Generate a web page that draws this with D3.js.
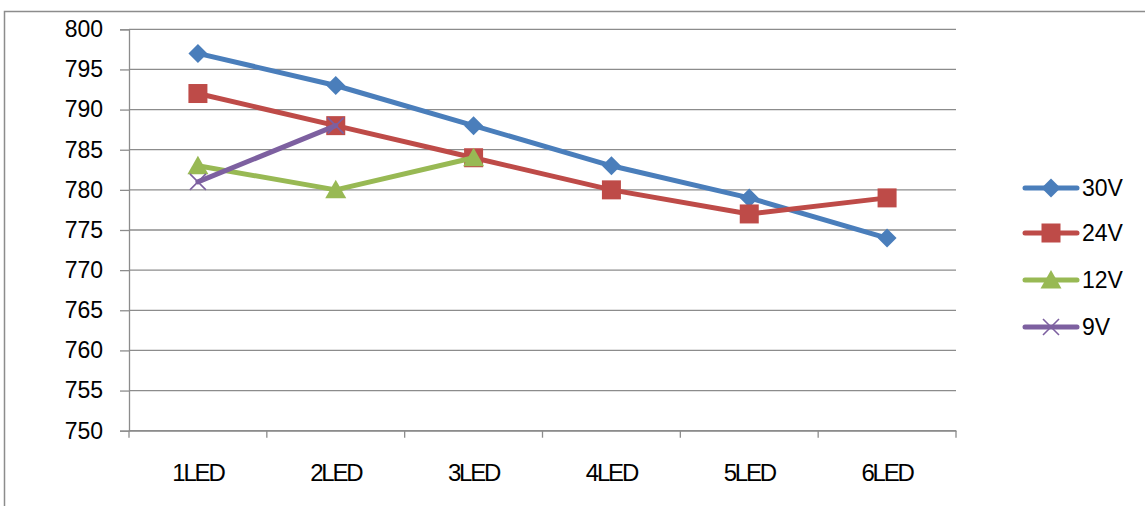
<!DOCTYPE html>
<html><head><meta charset="utf-8">
<script src="https://cdn.jsdelivr.net/npm/d3@7"></script>
<style>
html,body{margin:0;padding:0;background:#fff;}
svg{display:block;font-family:"Liberation Sans",Arial,sans-serif;}
</style></head>
<body><svg id="c" width="1145" height="506"></svg>
<script>
const categories = ["1LED","2LED","3LED","4LED","5LED","6LED"];
const seriesNames = ["30V","24V","12V","9V"];
const v30 = [797,793,788,783,779,774];
const v24 = [792,788,784,780,777,779];
const v12 = [783,780,784];
const v9  = [781,788];
const yTicks = [750,755,760,765,770,775,780,785,790,795,800];
const colors = ["#4A7EBB","#BE4B48","#98B954","#7D60A0"];
const symbolsKind = ["diamond","square","triangle","x"];

(function(){
const svg = d3.select("#c");
const W = 1145, H = 506;
// outer border
svg.append("rect").attr("x",4.5).attr("y",11.5).attr("width",W+10).attr("height",H+10)
  .attr("fill","none").attr("stroke","#8c8c8c").attr("stroke-width",1.5);

const pL = 129, pR = 956, pT = 29.3, pB = 430.7;
const x = d3.scaleBand().domain(categories).range([pL,pR]);
const y = d3.scaleLinear().domain([750,800]).range([pB,pT]);

const g = svg.append("g");
// gridlines
g.selectAll("line.grid").data(yTicks).enter().append("line")
  .attr("x1",pL).attr("x2",pR).attr("y1",d=>y(d)).attr("y2",d=>y(d))
  .attr("stroke","#8c8c8c").attr("stroke-width",1.3);

// y axis
const yAx = g.append("g").attr("transform",`translate(${pL},0)`)
  .call(d3.axisLeft(y).tickValues(yTicks).tickSize(9).tickPadding(17).tickFormat(d3.format("d")));
yAx.select(".domain").attr("stroke","#8c8c8c").attr("stroke-width",1.3);
yAx.selectAll(".tick line").attr("stroke","#8c8c8c").attr("stroke-width",1.3);
yAx.selectAll("text").attr("font-size",23).attr("fill","#000")
  .attr("font-family","Liberation Sans, Arial, sans-serif");

// x axis
const xAx = g.append("g").attr("transform",`translate(0,${pB})`)
  .call(d3.axisBottom(x).tickSize(0).tickPadding(0));
xAx.select(".domain").attr("stroke","#8c8c8c").attr("stroke-width",1.3);
xAx.selectAll(".tick text").attr("font-size",24).attr("fill","#000").attr("dy",null)
  .attr("y",50).attr("letter-spacing","-2.2px")
  .attr("font-family","Liberation Sans, Arial, sans-serif");
// x ticks at category boundaries
const bounds = categories.map(c=>x(c)).concat([pR]);
g.selectAll("line.xt").data(bounds).enter().append("line")
  .attr("x1",d=>d).attr("x2",d=>d).attr("y1",pB).attr("y2",pB+7)
  .attr("stroke","#8c8c8c").attr("stroke-width",1.3);

const cx = c => x(c) + x.bandwidth()/2;
const allSeries = [v30,v24,v12,v9];

function drawMarker(sel, kind, color){
  if(kind==="diamond"){
    sel.append("path").attr("d","M0,-9.5L9.5,0L0,9.5L-9.5,0Z").attr("fill",color);
  } else if(kind==="square"){
    sel.append("rect").attr("x",-9.5).attr("y",-9.5).attr("width",19).attr("height",19).attr("fill",color);
  } else if(kind==="triangle"){
    sel.append("path").attr("d","M0,-10L10.5,8.5L-10.5,8.5Z").attr("fill",color);
  } else {
    sel.append("path").attr("d","M-8,-8L8,8M-8,8L8,-8").attr("stroke",color).attr("stroke-width",1.6).attr("fill","none");
  }
}

const line = d3.line().x((d,i)=>cx(categories[i])).y(d=>y(d));
allSeries.forEach((vals,si)=>{
  const sg = g.append("g");
  sg.append("path").datum(vals).attr("d",line).attr("fill","none")
    .attr("stroke",colors[si]).attr("stroke-width",5).attr("stroke-linejoin","round").attr("stroke-linecap","round");
  vals.forEach((v,i)=>{
    const m = sg.append("g").attr("transform",`translate(${cx(categories[i])},${y(v)})`);
    drawMarker(m, symbolsKind[si], colors[si]);
  });
});

// legend
const legY = [188,233,280,327];
seriesNames.forEach((n,i)=>{
  const lg = svg.append("g").attr("transform",`translate(0,${legY[i]})`);
  lg.append("line").attr("x1",1025).attr("x2",1077).attr("y1",0).attr("y2",0)
    .attr("stroke",colors[i]).attr("stroke-width",5).attr("stroke-linecap","round");
  const m = lg.append("g").attr("transform","translate(1051,0)");
  drawMarker(m, symbolsKind[i], colors[i]);
  lg.append("text").attr("x",1082).attr("y",0).attr("dy","0.36em").attr("font-size",23)
    .attr("fill","#000").text(n);
});
})();
</script></body></html>
